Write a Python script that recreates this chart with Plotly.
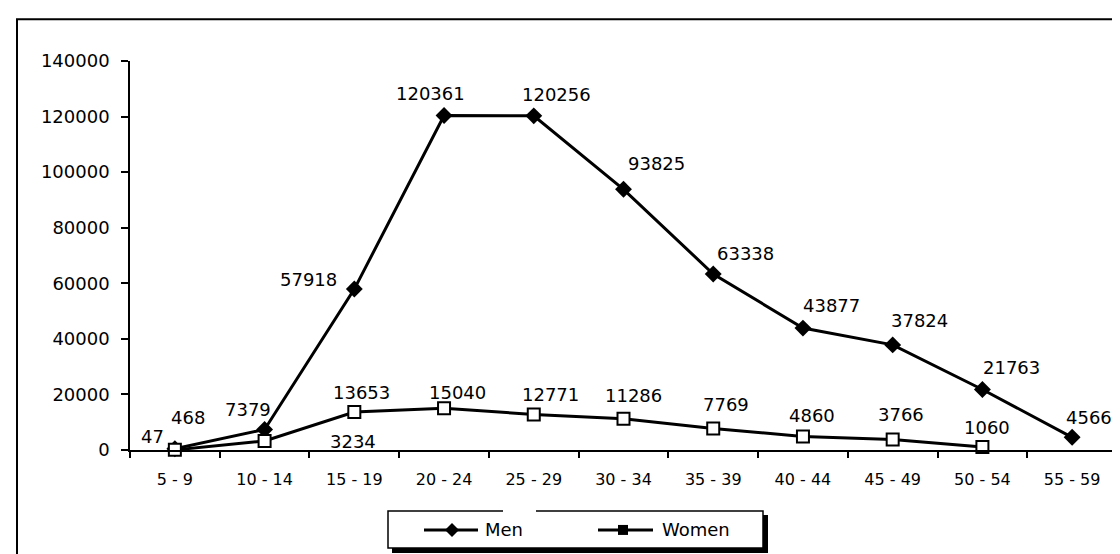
import plotly.graph_objects as go

# ---- data ----
age_groups = ["5 - 9", "10 - 14", "15 - 19", "20 - 24", "25 - 29", "30 - 34",
              "35 - 39", "40 - 44", "45 - 49", "50 - 54", "55 - 59"]
men = [468, 7379, 57918, 120361, 120256, 93825, 63338, 43877, 37824, 21763, 4566]
women = [47, 3234, 13653, 15040, 12771, 11286, 7769, 4860, 3766, 1060, None]

# ---- label offsets (pixels, dx right, dy up) ----
men_dx = [13, -17, -46, -14, 23, 33, 32, 29, 27, 29, 17]
men_dy = [31, 20, 10, 22, 21, 26, 21, 23, 24, 22, 20]
women_dx = [-22, 88, 7, 13, 17, 10, 13, 9, 8, 5, 0]
women_dy = [13, 0, 20, 16, 20, 23, 24, 21, 25, 20, 0]

FONT = "DejaVu Sans"
FS = 18
W, H = 1120, 554
L, R, T, B = 122, 11, 52.7, 112
PW, PH = W - L - R, H - T - B


def px(x):
    return (x - L) / PW


def py(y):
    return (H - B - y) / PH


fig = go.Figure()
fig.add_trace(go.Scatter(
    x=age_groups, y=men, mode="lines+markers", name="Men",
    line=dict(color="black", width=3),
    marker=dict(symbol="diamond", size=13, color="black"),
    showlegend=False, cliponaxis=False))
fig.add_trace(go.Scatter(
    x=age_groups, y=women, mode="lines+markers", name="Women",
    line=dict(color="black", width=3),
    marker=dict(symbol="square", size=12, color="white",
                line=dict(color="black", width=2)),
    showlegend=False, cliponaxis=False))

annotations = []
for cat, v, dx, dy in zip(age_groups, men, men_dx, men_dy):
    annotations.append(dict(x=cat, y=v, xref="x", yref="y", text=str(v),
                            showarrow=False, xshift=dx, yshift=dy,
                            font=dict(family=FONT, size=FS, color="black")))
for cat, v, dx, dy in zip(age_groups, women, women_dx, women_dy):
    if v is None:
        continue
    annotations.append(dict(x=cat, y=v, xref="x", yref="y", text=str(v),
                            showarrow=False, xshift=dx, yshift=dy,
                            font=dict(family=FONT, size=FS, color="black")))

shapes = []
# outer frame
shapes.append(dict(type="rect", xref="paper", yref="paper",
                   x0=px(9), x1=px(1118.5), y0=py(570), y1=py(11),
                   line=dict(color="black", width=2), layer="below"))
# legend shadow + box
shapes.append(dict(type="rect", xref="paper", yref="paper",
                   x0=px(384), x1=px(760), y0=py(545), y1=py(507),
                   line=dict(width=0), fillcolor="black"))
shapes.append(dict(type="rect", xref="paper", yref="paper",
                   x0=px(380), x1=px(755), y0=py(540), y1=py(503),
                   line=dict(color="black", width=1.5), fillcolor="white"))
shapes.append(dict(type="line", xref="paper", yref="paper",
                   x0=px(495), x1=px(528), y0=py(503), y1=py(503),
                   line=dict(color="white", width=3)))
# legend symbols
ly = 522
shapes.append(dict(type="line", xref="paper", yref="paper",
                   x0=px(416), x1=px(470), y0=py(ly), y1=py(ly),
                   line=dict(color="black", width=3)))
d = 7
shapes.append(dict(type="path", xref="paper", yref="paper",
                   path=f"M {px(444-d)} {py(ly)} L {px(444)} {py(ly-d)} L {px(444+d)} {py(ly)} L {px(444)} {py(ly+d)} Z",
                   line=dict(color="black", width=0), fillcolor="black"))
shapes.append(dict(type="line", xref="paper", yref="paper",
                   x0=px(590), x1=px(645), y0=py(ly), y1=py(ly),
                   line=dict(color="black", width=3)))
s = 5
shapes.append(dict(type="rect", xref="paper", yref="paper",
                   x0=px(615-s), x1=px(615+s), y0=py(ly+s), y1=py(ly-s),
                   line=dict(color="black", width=0), fillcolor="black"))
annotations.append(dict(x=px(475), y=py(ly), xref="paper", yref="paper",
                        text="Men", showarrow=False, xanchor="left", yanchor="middle",
                        font=dict(family=FONT, size=FS, color="black")))
annotations.append(dict(x=px(652), y=py(ly), xref="paper", yref="paper",
                        text="Women", showarrow=False, xanchor="left", yanchor="middle",
                        font=dict(family=FONT, size=FS, color="black")))

fig.update_layout(
    width=W, height=H,
    margin=dict(l=L, r=R, t=T, b=B, pad=0),
    paper_bgcolor="white", plot_bgcolor="white",
    font=dict(family=FONT, size=FS, color="black"),
    showlegend=False,
    annotations=annotations,
    shapes=shapes,
    xaxis=dict(type="category", range=[-0.5, 10.5], showline=True,
               linecolor="black", linewidth=1.5, ticks="outside",
               tickson="boundaries", ticklen=6, tickwidth=1.5, tickcolor="black",
               showgrid=False, zeroline=False, ticklabelstandoff=14,
               tickfont=dict(family=FONT, size=16, color="black")),
    yaxis=dict(range=[0, 140000], dtick=20000, showline=True,
               linecolor="black", linewidth=1.5, ticks="outside", ticklen=7,
               tickwidth=1.5, tickcolor="black", showgrid=False, zeroline=False,
               ticklabelstandoff=8, tickformat="d",
               tickfont=dict(family=FONT, size=FS, color="black")),
)

fig.write_html("out.html")
